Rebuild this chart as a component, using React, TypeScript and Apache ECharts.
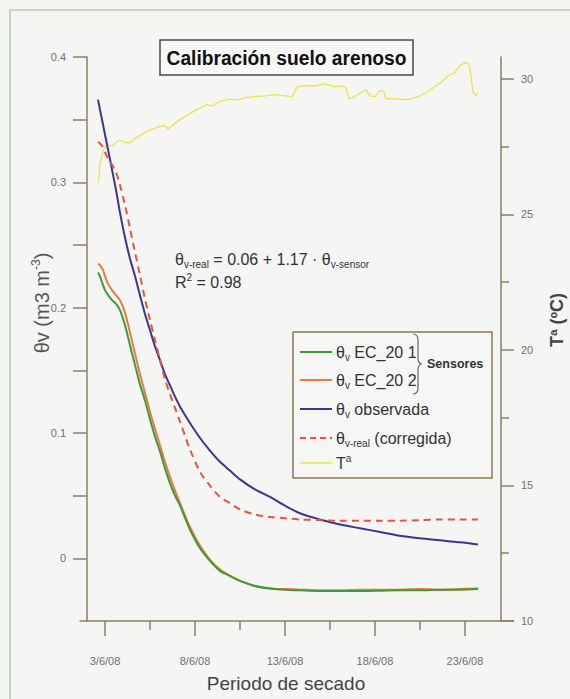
import React, { useEffect, useRef } from 'react';
import * as echarts from 'echarts';

// ---------- data ----------
// x values are days of June 2008 (fractional)
const days = [2.61, 2.72, 2.89, 3.0, 3.17, 3.39, 3.61, 3.83, 4.11, 4.39, 4.67, 4.94, 5.22, 5.5, 5.78, 6.06, 6.33, 6.61, 6.89, 7.17, 7.72, 8.28, 8.83, 9.39, 9.94, 10.5, 11.33, 12.17, 13.0, 13.83, 14.94, 16.06, 17.17, 18.28, 19.39, 20.5, 21.61, 22.72, 23.72];
const ec20_1 = [0.228, 0.225, 0.218, 0.214, 0.21, 0.206, 0.203, 0.198, 0.186, 0.17, 0.154, 0.139, 0.126, 0.111, 0.097, 0.085, 0.072, 0.06, 0.05, 0.042, 0.023, 0.008, -0.002, -0.01, -0.014, -0.018, -0.022, -0.024, -0.025, -0.0255, -0.026, -0.026, -0.026, -0.0258, -0.0255, -0.0255, -0.025, -0.025, -0.0245];
const ec20_2 = [0.235, 0.234, 0.23, 0.225, 0.219, 0.214, 0.21, 0.206, 0.196, 0.18, 0.163, 0.147, 0.132, 0.117, 0.103, 0.09, 0.077, 0.065, 0.054, 0.044, 0.025, 0.01, -0.001, -0.009, -0.014, -0.018, -0.022, -0.024, -0.0245, -0.025, -0.0255, -0.0255, -0.025, -0.025, -0.025, -0.0245, -0.025, -0.0245, -0.024];
const observada = [0.366, 0.358, 0.346, 0.338, 0.326, 0.31, 0.294, 0.276, 0.256, 0.239, 0.225, 0.21, 0.195, 0.182, 0.169, 0.158, 0.147, 0.138, 0.129, 0.121, 0.108, 0.096, 0.086, 0.077, 0.07, 0.063, 0.055, 0.049, 0.042, 0.036, 0.031, 0.027, 0.024, 0.021, 0.018, 0.016, 0.0144, 0.0128, 0.011];
const corregida = [0.332, 0.331, 0.328, 0.324, 0.319, 0.314, 0.308, 0.298, 0.282, 0.263, 0.244, 0.226, 0.207, 0.19, 0.174, 0.158, 0.143, 0.131, 0.12, 0.109, 0.087, 0.069, 0.058, 0.049, 0.044, 0.039, 0.035, 0.033, 0.032, 0.031, 0.0305, 0.03, 0.03, 0.03, 0.03, 0.0305, 0.031, 0.031, 0.031];

const tempDays = [2.63, 2.72, 2.83, 2.94, 3.09, 3.28, 3.44, 3.67, 3.83, 4.11, 4.39, 4.67, 4.94, 5.32, 5.67, 6.06, 6.33, 6.5, 6.72, 7.17, 7.61, 8.09, 8.65, 8.94, 9.39, 9.94, 10.39, 10.78, 11.33, 11.89, 12.44, 13.0, 13.39, 13.67, 14.11, 14.67, 15.22, 15.78, 16.17, 16.39, 16.56, 16.89, 17.28, 17.5, 17.72, 18.0, 18.28, 18.5, 18.61, 19.11, 19.67, 20.06, 20.5, 20.94, 21.39, 21.72, 22.06, 22.44, 22.72, 23.0, 23.22, 23.33, 23.44, 23.61, 23.72];
const tempValues = [26.16, 26.83, 27.2, 27.42, 27.57, 27.53, 27.53, 27.68, 27.75, 27.64, 27.64, 27.79, 27.9, 28.06, 28.15, 28.24, 28.27, 28.14, 28.27, 28.49, 28.67, 28.86, 29.04, 29.0, 29.16, 29.25, 29.22, 29.3, 29.34, 29.37, 29.41, 29.37, 29.34, 29.7, 29.74, 29.74, 29.81, 29.7, 29.74, 29.67, 29.26, 29.34, 29.52, 29.59, 29.37, 29.34, 29.56, 29.52, 29.26, 29.26, 29.23, 29.26, 29.37, 29.52, 29.74, 29.89, 30.11, 30.22, 30.48, 30.59, 30.55, 30.15, 29.52, 29.37, 29.48];

const xLabelDays = [3, 8, 13, 18, 23];
const xMinorDays = [5.5, 10.5, 15.5, 20.5];
const leftTicks = [0, 0.05, 0.1, 0.15, 0.2, 0.25, 0.3, 0.35, 0.4];
const leftLabels = [0, 0.1, 0.2, 0.3, 0.4];
const rightLabels = [10, 15, 20, 25, 30];
const rightMinor = [12.5, 17.5, 22.5, 27.5];

const X_MIN = 1.61;
const X_MAX = 25.67;

// ---------- style ----------
const GREEN = '#3f9a3a';
const ORANGE = '#ec7a3e';
const NAVY = '#38388e';
const RED = '#e8553c';
const YELLOW = '#ece24e';
const AXIS = '#8a8163';
const LABEL = '#707070';
const FONT = "'Liberation Sans', Arial, sans-serif";

const BRACE_D = 'M0,0 C4,0 5,2 5,6 L5,24 C5,28 6,30 9,30 C6,30 5,32 5,36 L5,54 C5,58 4,60 0,60';
echarts.graphic.registerShape('brace', echarts.graphic.extendPath(BRACE_D, {}));

const pairs = (xs: number[], ys: number[]) => xs.map((x, i) => [x, ys[i]]);

const richBase = {
  a: { fontSize: 16, fontFamily: FONT, fill: '#333', lineHeight: 20 },
  b: { fontSize: 10, fontFamily: FONT, fill: '#333', lineHeight: 8, verticalAlign: 'bottom' },
};

export default function App() {
  const ref = useRef<HTMLDivElement>(null);
  useEffect(() => {
    document.body.style.margin = '0';
    const chart = echarts.init(ref.current!, null, { renderer: 'svg' });
    const legendY = [352, 380, 409, 438, 463];
    const legendItems = [
      { color: GREEN, dash: null as any, text: '{a|θ}{b|v}{a| EC_20 1}' },
      { color: ORANGE, dash: null as any, text: '{a|θ}{b|v}{a| EC_20 2}' },
      { color: NAVY, dash: null as any, text: '{a|θ}{b|v}{a| observada}' },
      { color: RED, dash: [6, 4], text: '{a|θ}{b|v-real}{a| (corregida)}' },
      { color: YELLOW, dash: null as any, text: '{a|T}{c|a}' },
    ];
    const legendGraphics: any[] = [];
    legendItems.forEach((it, i) => {
      legendGraphics.push({
        type: 'line',
        shape: { x1: 300, y1: legendY[i], x2: 332, y2: legendY[i] },
        style: { stroke: it.color, lineWidth: i === 4 ? 1.5 : 2, lineDash: it.dash },
      });
      legendGraphics.push({
        type: 'text',
        x: 336,
        y: legendY[i],
        style: {
          text: it.text,
          verticalAlign: 'middle',
          rich: {
            ...richBase,
            c: { fontSize: 10, fontFamily: FONT, fill: '#333', lineHeight: 8, verticalAlign: 'top' },
          },
        },
      });
    });

    const option: any = {
      animation: false,
      backgroundColor: '#f5f5f4',
      grid: { left: 80, top: 57, width: 433, height: 564, containLabel: false },
      xAxis: [
        {
          type: 'value', min: X_MIN, max: X_MAX, position: 'bottom',
          axisLine: { onZero: false, lineStyle: { color: AXIS, width: 1.5 } },
          axisTick: { customValues: xLabelDays, length: 15, lineStyle: { color: AXIS, width: 1.5 } },
          axisLabel: {
            customValues: xLabelDays, margin: 34, color: LABEL, fontSize: 11, fontFamily: FONT,
            formatter: (v: number) => `${v}/6/08`,
          },
          splitLine: { show: false },
        },
        {
          type: 'value', min: X_MIN, max: X_MAX, position: 'bottom',
          axisLine: { show: false, onZero: false },
          axisTick: { customValues: xMinorDays, length: 9, lineStyle: { color: AXIS, width: 1.5 } },
          axisLabel: { show: false },
          splitLine: { show: false },
        },
      ],
      yAxis: [
        {
          type: 'value', min: -0.05, max: 0.4, position: 'left', offset: -7,
          axisLine: { show: true, onZero: false, lineStyle: { color: AXIS, width: 1.5 } },
          axisTick: { show: true, customValues: leftTicks, length: 14, lineStyle: { color: AXIS, width: 1.5 } },
          axisLabel: {
            customValues: leftLabels, margin: 21, color: LABEL, fontSize: 11, fontFamily: FONT,
            formatter: (v: number) => (v === 0 ? '0' : v.toFixed(1)),
          },
          splitLine: { show: false },
        },
        {
          type: 'value', min: 10, max: 30.8, position: 'right', offset: -12,
          axisLine: { show: true, onZero: false, lineStyle: { color: AXIS, width: 1.5 } },
          axisTick: { show: true, customValues: rightLabels, length: 13, lineStyle: { color: AXIS, width: 1.5 } },
          axisLabel: { customValues: rightLabels, margin: 20, color: LABEL, fontSize: 11, fontFamily: FONT },
          splitLine: { show: false },
        },
        {
          type: 'value', min: 10, max: 30.8, position: 'right', offset: -12,
          axisLine: { show: false, onZero: false },
          axisTick: { show: true, customValues: rightMinor, length: 8, lineStyle: { color: AXIS, width: 1.5 } },
          axisLabel: { show: false },
          splitLine: { show: false },
        },
      ],
      series: [
        {
          name: 'θv EC_20 2', type: 'line', data: pairs(days, ec20_2), symbol: 'none', smooth: 0.3, z: 2,
          lineStyle: { color: ORANGE, width: 2 },
        },
        {
          name: 'θv EC_20 1', type: 'line', data: pairs(days, ec20_1), symbol: 'none', smooth: 0.3, z: 3,
          lineStyle: { color: GREEN, width: 2 },
        },
        {
          name: 'θv observada', type: 'line', data: pairs(days, observada), symbol: 'none', smooth: 0.3, z: 4,
          lineStyle: { color: NAVY, width: 2 },
        },
        {
          name: 'θv-real (corregida)', type: 'line', data: pairs(days, corregida), symbol: 'none', smooth: 0.3, z: 5,
          lineStyle: { color: RED, width: 2, type: [7, 5] },
        },
        {
          name: 'Tª', type: 'line', yAxisIndex: 1, data: pairs(tempDays, tempValues), symbol: 'none', z: 1,
          lineStyle: { color: YELLOW, width: 1.3 },
        },
      ],
      graphic: [
        // outer frame
        { type: 'line', shape: { x1: 10, y1: 10, x2: 570, y2: 10 }, style: { stroke: '#95c683', lineWidth: 1.2 } },
        { type: 'line', shape: { x1: 10, y1: 10, x2: 10, y2: 699 }, style: { stroke: '#95c683', lineWidth: 1.2 } },
        // title
        { type: 'rect', shape: { x: 160, y: 40, width: 253, height: 35 }, style: { fill: '#f7f7f6', stroke: '#4a4a44', lineWidth: 1.5 } },
        {
          type: 'text', x: 286.5, y: 58, scaleX: 0.96,
          style: { text: 'Calibración suelo arenoso', font: `bold 20px ${FONT}`, fill: '#111', align: 'center', verticalAlign: 'middle' },
        },
        // equation
        {
          type: 'text', x: 175, y: 259,
          style: {
            text: '{a|θ}{b|v-real}{a| = 0.06 + 1.17 · θ}{b|v-sensor}', verticalAlign: 'middle',
            rich: { a: { ...richBase.a, fontSize: 16 }, b: { ...richBase.b, fontSize: 10 } },
          },
        },
        {
          type: 'text', x: 175, y: 282,
          style: {
            text: '{a|R}{c|2}{a| = 0.98}', verticalAlign: 'middle',
            rich: {
              a: { ...richBase.a, fontSize: 16 },
              c: { fontSize: 10, fontFamily: FONT, fill: '#333', lineHeight: 8, verticalAlign: 'top' },
            },
          },
        },
        // legend box
        { type: 'rect', shape: { x: 293, y: 332, width: 199, height: 146 }, style: { fill: '#f6f6f5', stroke: '#8a7a50', lineWidth: 1.5 } },
        ...legendGraphics,
        { type: 'brace', x: 413, y: 334, style: { stroke: '#666', fill: 'none', lineWidth: 1.2 } },
        {
          type: 'text', x: 427, y: 364,
          style: { text: 'Sensores', font: `bold 12.5px ${FONT}`, fill: '#333', verticalAlign: 'middle' },
        },
        // axis names
        {
          type: 'text', x: 42, y: 303, rotation: Math.PI / 2,
          style: {
            text: '{a|θv (m3 m}{c|-3}{a|)}', align: 'center', verticalAlign: 'middle',
            rich: {
              a: { fontSize: 20, fontFamily: FONT, fill: '#555', lineHeight: 24 },
              c: { fontSize: 12, fontFamily: FONT, fill: '#555', lineHeight: 10, verticalAlign: 'top' },
            },
          },
        },
        {
          type: 'text', x: 557, y: 320, rotation: Math.PI / 2,
          style: { text: 'Tª (ºC)', font: `bold 18px ${FONT}`, fill: '#444', align: 'center', verticalAlign: 'middle' },
        },
        {
          type: 'text', x: 286, y: 683,
          style: { text: 'Periodo de secado', font: `19px ${FONT}`, fill: '#444', align: 'center', verticalAlign: 'middle' },
        },
      ],
    };
    chart.setOption(option);
    return () => chart.dispose();
  }, []);
  return <div ref={ref} style={{ position: 'absolute', left: 0, top: 0, width: 570, height: 699 }} />;
}
